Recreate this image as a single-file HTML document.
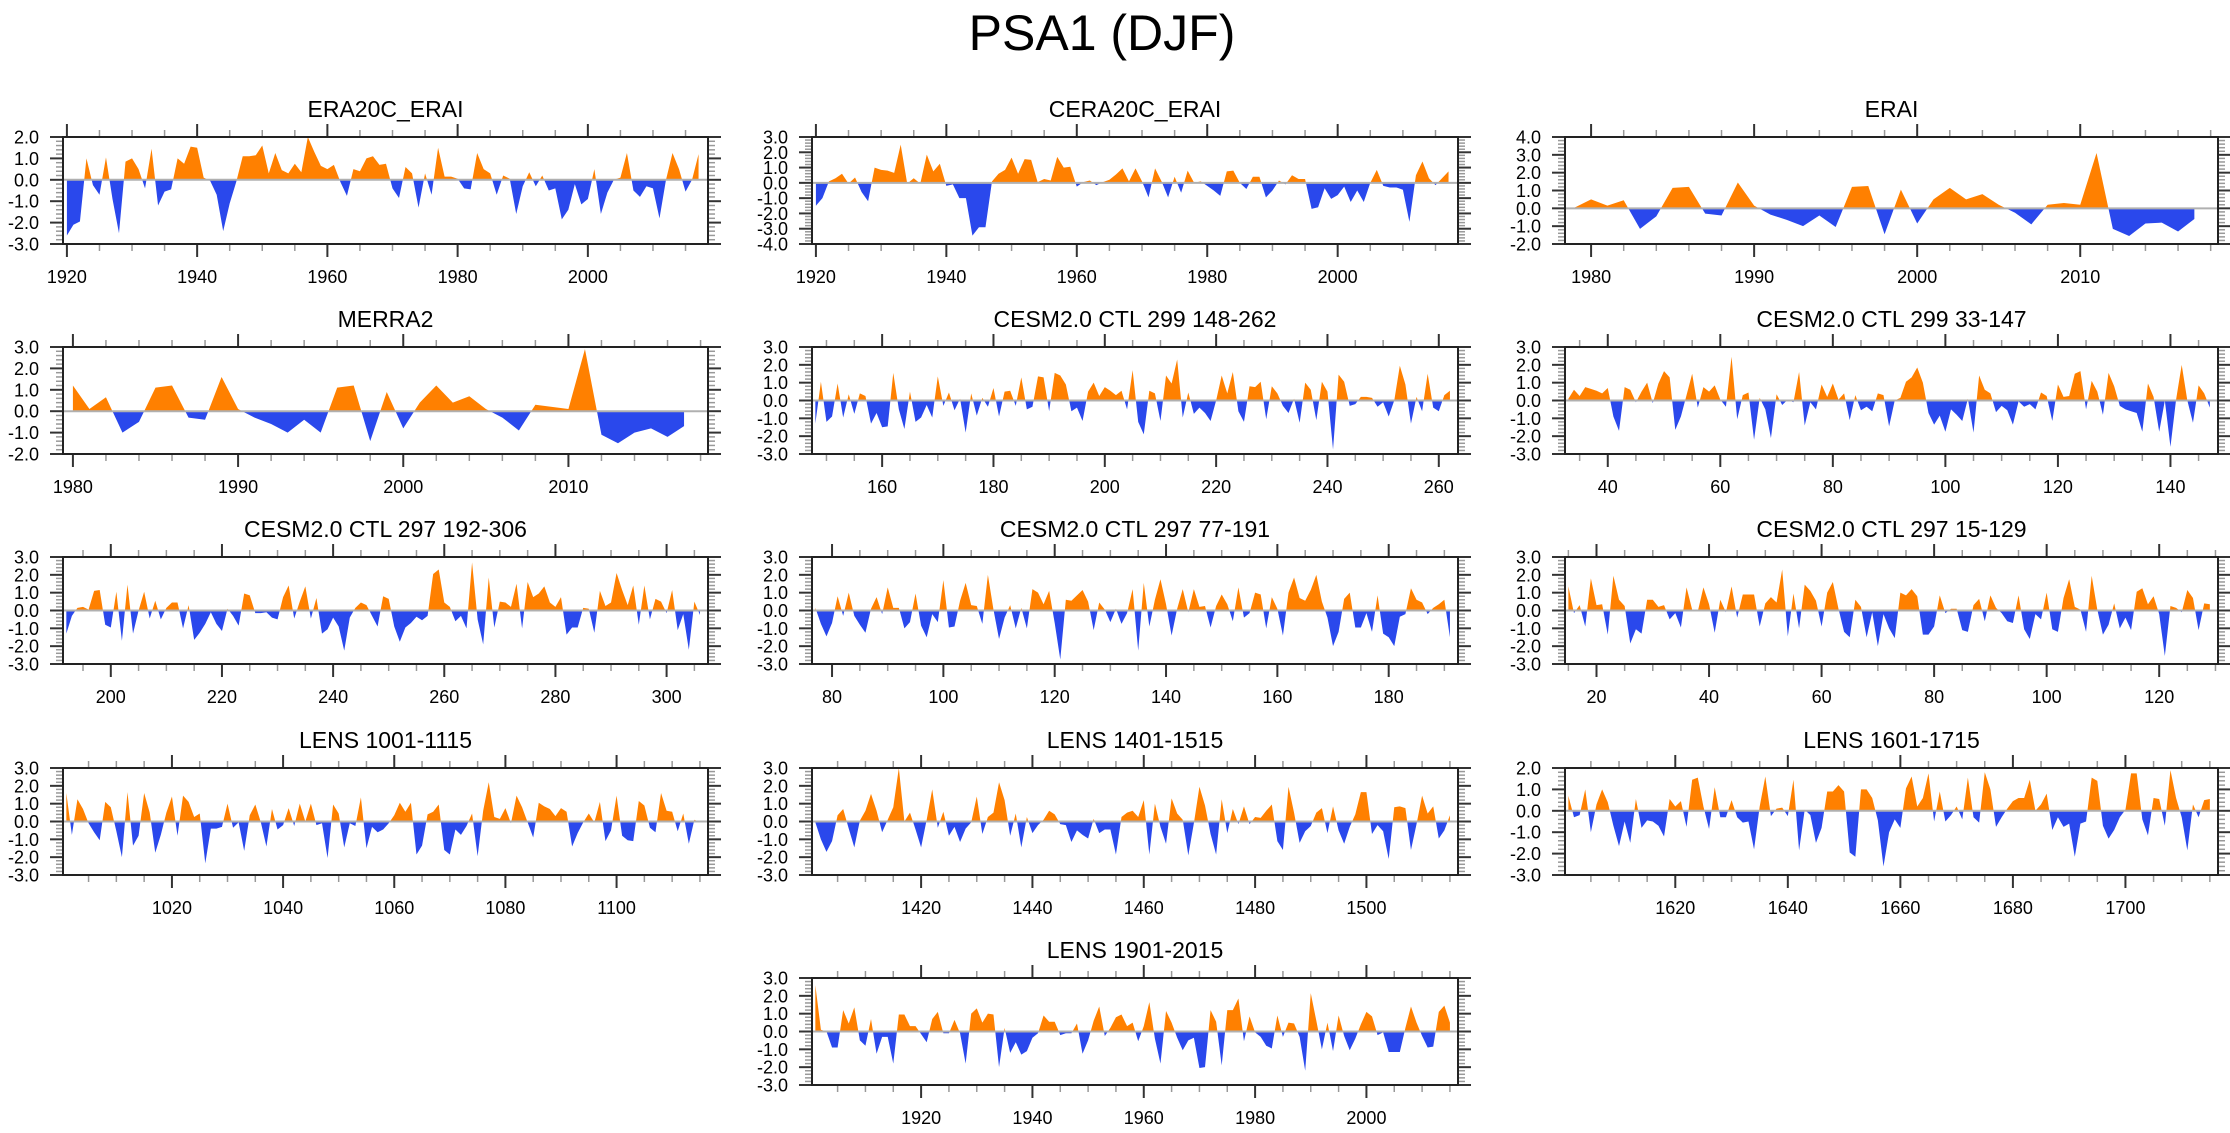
<!DOCTYPE html>
<html><head><meta charset="utf-8"><title>PSA1 (DJF)</title>
<style>
html,body{margin:0;padding:0;background:#fff;}
svg{display:block;font-family:"Liberation Sans",Arial,sans-serif;}
</style></head>
<body>
<svg id="chart" width="2230" height="1133" viewBox="0 0 2230 1133" xmlns="http://www.w3.org/2000/svg">
<text x="1102" y="50" text-anchor="middle" font-size="50" fill="#000">PSA1 (DJF)</text>
</svg>
<script>
const era20cStart = 1920;
const era20cValues = [-2.6,-2.1,-1.95,1.0,-0.25,-0.7,1.05,-0.9,-2.5,0.85,1.0,0.5,-0.4,1.45,-1.2,-0.55,-0.45,1.0,0.75,1.55,1.5,0.1,-0.05,-0.7,-2.4,-1.1,-0.1,1.1,1.1,1.15,1.6,0.3,1.25,0.45,0.3,0.75,0.35,2.0,1.3,0.65,0.5,0.7,-0.1,-0.75,0.5,0.4,1.0,1.1,0.7,0.75,-0.4,-0.85,0.6,0.3,-1.3,0.3,-0.7,1.5,0.15,0.15,0.05,-0.4,-0.45,1.25,0.5,0.3,-0.7,0.2,0.05,-1.6,-0.3,0.35,-0.3,0.2,-0.5,-0.4,-1.85,-1.4,-0.2,-1.15,-0.9,0.5,-1.6,-0.6,0.0,0.1,1.25,-0.5,-0.8,-0.3,-0.4,-1.8,0.0,1.25,0.5,-0.55,0.0,1.2];
const cera20cStart = 1920;
const cera20cValues = [-1.5,-1.0,0.1,0.3,0.6,-0.05,0.35,-0.6,-1.2,1.0,0.85,0.8,0.65,2.5,-0.05,0.3,-0.05,1.85,0.75,1.25,-0.2,-0.1,-1.0,-1.0,-3.45,-2.9,-2.9,0.1,0.6,0.85,1.65,0.6,1.55,1.5,0.05,0.25,0.15,1.7,1.0,1.05,-0.25,0.05,0.15,-0.15,0.05,0.2,0.55,0.95,0.1,0.95,0.1,-0.95,0.95,0.1,-0.95,0.4,-0.65,0.8,0.0,0.1,-0.2,-0.5,-0.85,0.75,0.8,0.0,-0.4,0.4,0.4,-0.95,-0.5,0.15,-0.1,0.5,0.25,0.25,-1.7,-1.6,-0.35,-1.05,-0.8,-0.25,-1.25,-0.5,-1.25,0.0,0.85,-0.2,-0.3,-0.3,-0.45,-2.55,0.5,1.4,0.3,-0.15,0.3,0.75];
const eraiStart = 1979;
const eraiValues = [0.05,0.5,0.15,0.45,-1.15,-0.45,1.15,1.2,-0.3,-0.4,1.45,0.15,-0.35,-0.65,-1.0,-0.4,-1.05,1.2,1.25,-1.45,1.05,-0.85,0.5,1.15,0.5,0.8,0.2,-0.25,-0.9,0.2,0.3,0.2,3.1,-1.15,-1.55,-0.85,-0.8,-1.3,-0.6];
const merra2Start = 1980;
const merra2Values = [1.2,0.1,0.65,-1.0,-0.5,1.1,1.2,-0.3,-0.4,1.6,0.1,-0.3,-0.6,-1.0,-0.4,-1.0,1.1,1.2,-1.4,0.9,-0.8,0.4,1.2,0.4,0.7,0.1,-0.3,-0.9,0.3,0.2,0.1,2.9,-1.1,-1.5,-1.0,-0.8,-1.2,-0.7];
const ctl299aStart = 148;
const ctl299aValues = [-1.3,1.05,-1.2,-0.9,0.95,-0.95,0.35,-0.75,0.4,0.25,-1.3,-0.7,-1.5,-1.45,1.55,-0.5,-1.6,0.5,-1.2,-0.95,-0.25,-0.95,1.35,-0.3,0.45,-0.55,0.1,-1.8,0.4,-0.85,0.15,-0.35,0.7,-0.9,0.5,0.55,-0.3,1.3,-0.5,-0.35,1.35,1.3,-0.6,1.55,1.4,0.9,-0.6,-0.4,-1.15,0.5,1.0,0.25,0.75,0.55,0.3,0.55,-0.5,1.7,-1.2,-1.9,0.55,0.4,-1.15,1.4,0.95,2.3,-0.95,0.45,-0.75,-0.4,-0.7,-1.15,0.0,1.4,0.4,1.6,-0.6,-1.2,0.8,0.75,1.05,-1.05,0.8,0.4,-0.3,-0.7,0.1,-1.25,1.0,0.6,-1.1,1.05,0.5,-2.75,1.45,1.05,-0.3,-0.2,0.2,0.2,0.15,-0.35,-0.1,-0.9,0.0,1.95,0.9,-1.3,0.2,-0.6,1.5,-0.4,-0.6,0.3,0.55];
const ctl299bStart = 33;
const ctl299bValues = [0.1,0.6,0.25,0.75,0.65,0.55,0.4,0.7,-0.9,-1.7,0.75,0.6,-0.1,0.5,1.0,-0.15,0.95,1.65,1.3,-1.65,-0.9,0.3,1.5,-0.4,0.75,0.5,0.85,0.05,-0.35,2.45,-1.05,0.3,0.45,-2.2,0.15,-0.5,-2.1,0.35,-0.25,0.05,-0.1,1.6,-1.4,-0.1,-0.5,0.9,0.2,0.95,0.05,0.4,-1.1,0.3,-0.55,-0.35,-0.6,0.4,0.3,-1.45,0.0,0.15,1.05,1.3,1.85,1.0,-0.7,-1.35,-0.85,-1.75,-0.5,-0.8,-1.15,0.1,-1.8,1.4,0.6,0.4,-0.65,-0.3,-0.55,-1.35,-0.05,-0.35,-0.2,-0.5,0.45,0.25,-1.15,0.9,0.2,0.25,1.5,1.65,-0.5,1.1,0.5,-0.8,1.55,0.8,-0.3,-0.5,-0.6,-0.7,-1.75,0.95,0.2,-1.75,0.0,-2.6,0.05,2.0,0.0,-1.25,0.85,0.4,-0.4];
const ctl297aStart = 192;
const ctl297aValues = [-1.3,-0.3,0.15,0.2,0.05,1.1,1.15,-0.8,-0.95,1.05,-1.7,1.45,-1.3,0.0,1.05,-0.45,0.55,-0.5,0.15,0.45,0.45,-1.0,0.3,-1.65,-1.25,-0.75,-0.1,-0.75,-1.15,0.1,-0.3,-0.85,0.95,0.85,-0.15,-0.15,-0.1,-0.4,-0.5,0.75,1.4,-0.45,0.5,1.35,-0.45,0.7,-1.3,-1.05,-0.4,-0.9,-2.25,-0.4,0.15,0.45,0.3,-0.3,-0.9,0.8,0.65,-0.9,-1.75,-0.95,-0.7,-0.35,-0.55,-0.3,2.05,2.3,0.45,0.2,-0.6,-0.3,-1.0,2.7,-0.5,-1.9,1.85,-0.95,0.5,0.45,0.2,1.5,-1.0,1.6,0.75,0.95,1.35,0.45,0.2,0.75,-1.35,-0.95,-0.95,0.15,0.1,-1.25,1.1,0.25,0.45,2.1,1.15,0.3,1.4,-0.8,1.4,-0.5,0.65,0.5,-0.15,1.15,-1.1,-0.2,-2.2,0.5,-0.25];
const ctl297bStart = 77;
const ctl297bValues = [0.15,-0.75,-1.45,-0.7,0.8,-0.3,1.0,-0.3,-0.8,-1.25,0.1,0.75,-0.2,1.3,0.15,0.15,-1.0,-0.65,0.95,-0.85,-1.5,-0.2,-0.65,1.7,-0.95,-0.9,0.55,1.55,0.3,0.25,-0.75,2.0,0.05,-1.6,-0.4,0.3,-1.0,0.15,-1.0,1.2,1.0,0.35,1.1,-0.7,-2.75,0.6,0.55,0.85,1.15,0.5,-1.1,0.45,0.05,-0.65,0.1,-0.75,-0.15,1.2,-2.25,1.55,-0.9,0.6,1.75,0.35,-1.4,0.1,1.2,-0.1,1.2,0.2,0.25,-0.95,0.25,0.9,0.35,-0.6,1.3,-0.4,-0.15,1.0,0.9,-1.0,0.75,0.1,-1.4,1.0,1.85,0.7,0.55,1.15,2.0,0.5,-0.4,-2.0,-1.2,0.65,1.0,-0.95,-0.95,-0.15,-1.2,0.85,-1.3,-1.5,-2.0,-0.35,-0.2,1.25,0.6,0.45,-0.2,0.15,0.35,0.6,-1.5];
const ctl297cStart = 15;
const ctl297cValues = [1.35,-0.15,0.3,-0.9,1.8,0.3,0.35,-1.35,1.95,0.6,0.25,-1.85,-1.05,-1.3,0.6,0.6,0.2,0.3,-0.5,-0.15,-0.95,1.3,0.05,-0.05,1.3,0.35,-1.25,0.6,-0.1,1.35,-0.4,0.9,0.9,0.9,-0.9,0.4,0.75,0.45,2.3,-1.45,0.95,-1.0,1.45,1.1,0.55,-0.9,1.0,1.6,0.1,-1.2,-1.5,0.6,0.2,-1.5,-0.1,-2.0,-0.2,-1.0,-1.55,1.0,0.85,1.2,0.8,-1.35,-1.35,-0.9,0.85,-0.15,0.1,0.1,-1.1,-1.2,0.3,0.65,-0.6,0.85,0.15,-0.15,-0.6,-0.7,0.85,-1.05,-1.6,-0.2,-0.5,1.0,-1.05,-1.2,0.7,1.75,0.2,0.05,-1.2,1.95,0.05,-1.35,-0.8,0.4,-1.0,-0.4,-1.1,1.05,1.25,0.35,0.8,-0.2,-2.55,0.25,0.15,-0.1,1.15,0.7,-1.1,0.4,0.35];
const lens1001Start = 1001;
const lens1001Values = [1.6,-0.75,1.25,0.7,-0.1,-0.6,-1.05,1.1,0.8,-0.55,-2.0,1.65,-1.35,-0.8,1.6,0.5,-1.75,-0.75,0.5,1.4,-0.8,1.45,1.1,0.25,0.45,-2.35,-0.4,-0.4,-0.3,1.0,-0.35,-0.05,-1.65,0.35,0.95,-0.05,-1.4,0.7,-0.45,-0.2,0.75,-0.25,1.0,0.0,1.0,-0.2,-0.1,-2.05,0.95,0.45,-1.45,-0.1,-0.25,1.35,-1.5,-0.3,-0.6,-0.45,-0.1,0.35,1.05,0.55,1.05,-1.85,-1.35,0.4,0.55,0.95,-1.6,-1.85,-0.45,-0.75,-0.25,0.45,-1.95,0.6,2.2,0.25,0.15,0.75,-0.1,1.45,0.8,-0.05,-0.9,1.05,0.85,0.7,0.3,0.75,0.55,-1.4,-0.65,-0.05,0.45,-0.05,1.1,-1.1,-0.5,1.45,-0.8,-1.05,-1.1,1.15,0.9,-0.35,-0.6,1.6,0.6,0.55,-0.55,0.45,-1.25,0.1,-0.05];
const lens1401Start = 1401;
const lens1401Values = [-0.05,-1.0,-1.7,-1.1,0.35,0.7,-0.4,-1.45,0.05,0.6,1.55,0.6,-0.6,0.1,0.8,3.0,0.0,0.5,-0.45,-1.45,0.1,1.8,-0.35,0.55,-0.8,-0.3,-1.15,-0.4,-0.05,1.4,-0.7,0.25,0.5,2.2,1.2,-0.8,0.45,-1.45,0.25,-0.65,-0.2,0.1,0.6,0.4,-0.15,-0.2,-1.15,-0.5,-0.75,-0.95,0.15,-0.65,-0.45,-0.45,-1.85,0.25,0.5,0.6,0.25,1.2,-1.85,1.0,-0.3,-1.25,1.3,0.45,0.1,-1.9,-0.1,1.95,0.9,-0.7,-1.85,1.25,-0.65,0.7,-0.15,0.85,-0.15,0.25,0.2,0.6,0.95,-1.1,-1.6,1.95,0.5,-1.2,-0.55,-0.25,0.5,0.75,-0.65,0.85,-0.5,-1.25,-0.3,0.4,1.65,1.65,-0.7,-0.2,-0.55,-2.1,0.8,0.85,0.75,-1.6,-0.15,1.45,0.45,0.85,-0.95,-0.5,0.35];
const lens1601Start = 1601;
const lens1601Values = [0.7,-0.3,-0.2,1.0,-1.0,0.3,1.0,0.4,-0.7,-1.65,-0.5,-1.5,0.55,-0.8,-0.45,-0.5,-0.7,-1.2,0.55,0.2,0.45,-0.75,1.45,1.55,0.2,-0.85,1.1,-0.3,-0.3,0.5,-0.3,-0.55,-0.5,-1.8,0.2,1.6,-0.25,0.1,0.15,-0.25,1.45,-1.85,0.05,-0.2,-1.5,-0.8,0.9,0.9,1.2,0.9,-1.95,-2.15,1.0,1.0,0.6,-0.45,-2.6,-1.0,-0.4,-0.8,1.05,1.6,0.2,0.6,1.75,-0.5,0.9,-0.5,-0.2,0.2,-0.4,1.55,-0.3,-0.55,1.8,1.0,-0.75,-0.3,0.1,0.45,0.6,0.6,1.45,0.0,0.3,0.8,-0.9,-0.3,-0.75,-0.6,-2.15,-0.6,-0.5,1.55,1.4,-0.7,-1.3,-0.9,-0.3,0.05,1.75,1.75,-0.4,-1.15,0.6,0.55,-0.7,1.9,0.6,-0.3,-1.85,0.3,-0.3,0.5,0.55];
const lens1901Start = 1901;
const lens1901Values = [2.6,0.1,0.0,-0.9,-0.9,1.2,0.45,1.35,-0.5,-0.8,0.7,-1.25,-0.3,-0.3,-1.8,0.95,0.95,0.3,0.3,-0.15,-0.6,0.7,1.1,-0.1,-0.1,0.65,-0.1,-1.8,1.0,1.3,0.5,1.0,0.95,-2.0,0.2,-1.2,-0.6,-1.3,-1.1,-0.35,-0.1,0.9,0.55,0.55,-0.2,-0.1,-0.1,0.45,-1.25,-0.5,0.6,1.4,-0.25,0.2,0.8,0.95,0.3,0.5,-0.55,0.3,1.65,-0.4,-1.8,1.15,0.5,-0.35,-1.05,-0.5,-0.35,-2.05,-2.0,1.2,0.55,-1.9,1.2,1.2,1.85,-0.55,0.85,-0.05,-0.3,-0.8,-0.95,0.9,-0.3,0.5,0.45,-0.3,-2.2,2.15,0.6,-1.0,0.5,-1.1,0.9,-0.25,-1.05,-0.4,0.4,1.1,0.85,-0.2,-0.05,-1.15,-1.15,-1.15,0.2,1.4,0.5,-0.25,-0.9,-0.85,1.1,1.45,0.5];

const panelTitles = ["ERA20C_ERAI","CERA20C_ERAI","ERAI","MERRA2","CESM2.0 CTL 299 148-262","CESM2.0 CTL 299 33-147","CESM2.0 CTL 297 192-306","CESM2.0 CTL 297 77-191","CESM2.0 CTL 297 15-129","LENS 1001-1115","LENS 1401-1515","LENS 1601-1715","LENS 1901-2015"];
const panelStarts = [era20cStart,cera20cStart,eraiStart,merra2Start,ctl299aStart,ctl299bStart,ctl297aStart,ctl297bStart,ctl297cStart,lens1001Start,lens1401Start,lens1601Start,lens1901Start];
const panelSeries = [era20cValues,cera20cValues,eraiValues,merra2Values,ctl299aValues,ctl299bValues,ctl297aValues,ctl297bValues,ctl297cValues,lens1001Values,lens1401Values,lens1601Values,lens1901Values];
const panelYMin = [-3,-4,-2,-2,-3,-3,-3,-3,-3,-3,-3,-3,-3];
const panelYMax = [2,3,4,3,3,3,3,3,3,3,3,2,3];
const panelXMajor = [20,20,10,10,20,20,20,20,20,20,20,20,20];
const panelXMinor = [5,5,2,2,5,5,5,5,5,5,5,5,5];

// layout (not data)
const colX = [[63,708],[812,1458],[1565,2218]];
const rowTop = [137,347,557,768,978];
const panelCol = [0,1,2,0,1,2,0,1,2,0,1,2,1];
const panelRow = [0,0,0,1,1,1,2,2,2,3,3,3,4];
const PH = 107;
const ORANGE = "#ff8000", BLUE = "#2a48ec";
const NS = "http://www.w3.org/2000/svg";
const svg = document.getElementById('chart');

function mk(tag, attrs, parent){
  const e = document.createElementNS(NS, tag);
  for (const k in attrs) e.setAttribute(k, attrs[k]);
  (parent||svg).appendChild(e);
  return e;
}
function slug(s){return s.toLowerCase().replace(/[^a-z0-9]+/g,'-').replace(/^-|-$/g,'');}

panelTitles.forEach((title, i) => {
  const vals = panelSeries[i], start = panelStarts[i];
  const x0 = colX[panelCol[i]][0], x1 = colX[panelCol[i]][1];
  const top = rowTop[panelRow[i]], bot = top + PH;
  const ymin = panelYMin[i], ymax = panelYMax[i];
  const xmin = start - 0.6, xmax = start + vals.length - 1 + 1.45;
  const xs = v => x0 + (v - xmin) / (xmax - xmin) * (x1 - x0);
  const ys = v => bot - (v - ymin) / (ymax - ymin) * PH;
  const id = slug(title);

  const g = mk('g', {});
  
  

  const t = mk('text', {x:(x0+x1)/2, y: top-20, 'text-anchor':'middle', 'font-size':23, fill:'#000'}, g);
  t.textContent = title;
  
  

  const defs = mk('defs', {}, g);
  const zy = ys(0);
  const cpA = mk('clipPath', {id:'ca'+i}, defs);
  mk('rect', {x:x0, y:top, width:x1-x0, height:zy-top}, cpA);
  const cpB = mk('clipPath', {id:'cb'+i}, defs);
  mk('rect', {x:x0, y:zy, width:x1-x0, height:bot-zy}, cpB);

  let pts = xs(start).toFixed(2) + ',' + zy.toFixed(2) + ' ';
  vals.forEach((v, k) => { pts += xs(start+k).toFixed(2) + ',' + ys(v).toFixed(2) + ' '; });
  pts += xs(start+vals.length-1).toFixed(2) + ',' + zy.toFixed(2);

  const pos = mk('polygon', {points:pts, fill:ORANGE, 'clip-path':'url(#ca'+i+')'}, g);
  
  
  const neg = mk('polygon', {points:pts, fill:BLUE, 'clip-path':'url(#cb'+i+')'}, g);
  
  

  const zl = mk('line', {x1:x0, x2:x1, y1:zy, y2:zy, stroke:'#b0b0b0', 'stroke-width':2}, g);
  
  

  for (let v = ymin; v <= ymax + 1e-9; v += 0.2) {
    const isMaj = Math.abs(v - Math.round(v)) < 1e-6;
    const yy = ys(v), len = isMaj ? 13 : 7;
    const col = isMaj ? '#333' : '#999';
    mk('line', {x1:x0-len, x2:x0, y1:yy, y2:yy, stroke:col, 'stroke-width':isMaj?2:1.5}, g);
    mk('line', {x1:x1, x2:x1+len, y1:yy, y2:yy, stroke:col, 'stroke-width':isMaj?2:1.5}, g);
    if (isMaj) {
      const lb = mk('text', {x:x0-24, y:yy+6.5, 'text-anchor':'end', 'font-size':18, fill:'#000'}, g);
      lb.textContent = Math.round(v).toFixed(1);
      
      
    }
  }
  const mj = panelXMajor[i], mn = panelXMinor[i];
  for (let v = Math.ceil(xmin/mn)*mn; v <= xmax; v += mn) {
    const isMaj = v % mj === 0;
    const xx = xs(v), len = isMaj ? 13 : 7;
    const col = isMaj ? '#333' : '#999';
    mk('line', {x1:xx, x2:xx, y1:top-len, y2:top, stroke:col, 'stroke-width':isMaj?2:1.5}, g);
    mk('line', {x1:xx, x2:xx, y1:bot, y2:bot+len, stroke:col, 'stroke-width':isMaj?2:1.5}, g);
    if (isMaj) {
      const lb = mk('text', {x:xx, y:bot+39, 'text-anchor':'middle', 'font-size':18, fill:'#000'}, g);
      lb.textContent = String(v);
      
      
    }
  }
  const fr = mk('rect', {x:x0, y:top, width:x1-x0, height:PH, fill:'none', stroke:'#222', 'stroke-width':2}, g);
  
  
});
</script>
</body></html>
